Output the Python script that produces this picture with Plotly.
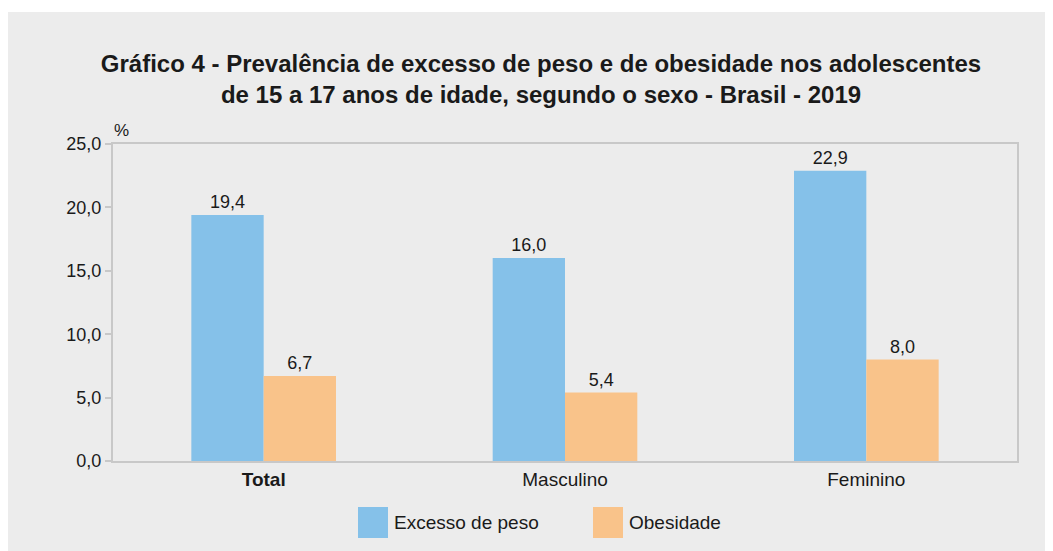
import plotly.graph_objects as go

categories = ["Total", "Masculino", "Feminino"]
tick_labels = ["<b>Total</b>", "Masculino", "Feminino"]
excesso_peso = [19.4, 16.0, 22.9]
obesidade = [6.7, 5.4, 8.0]
series_names = ["Excesso de peso", "Obesidade"]
y_ticks = [0, 5, 10, 15, 20, 25]

BLUE = "#85C1E9"
ORANGE = "#F9C38A"
FONT = "Liberation Sans, Arial, Helvetica, sans-serif"
TXT = "#1a1a1a"

fig = go.Figure()
for name, vals, col in [(series_names[0], excesso_peso, BLUE), (series_names[1], obesidade, ORANGE)]:
    fig.add_trace(go.Bar(
        x=categories, y=vals, name=name, marker=dict(color=col, line=dict(width=0)),
        text=vals, texttemplate="%{y:.1f}", textposition="outside",
        textfont=dict(size=18, color=TXT, family=FONT), cliponaxis=False,
        showlegend=False,
    ))

W, H = 1053, 551
OFF = 8  # page body margin
# plot area in screenshot coordinates
L, R, T, B = 113, 1017, 144, 461
ml = L - OFF
mt = T - OFF
mr = W - (R - OFF)
mb = H - (B - OFF)

fig.update_layout(
    width=W, height=H,
    margin=dict(l=ml, r=mr, t=mt, b=mb),
    paper_bgcolor="white", plot_bgcolor="white",
    separators=",.",
    barmode="group", bargap=0.52, bargroupgap=0,
    font=dict(family=FONT, color=TXT, size=18),
    title=dict(
        text="<b>Gráfico 4 - Prevalência de excesso de peso e de obesidade nos adolescentes<br>de 15 a 17 anos de idade, segundo o sexo - Brasil - 2019</b>",
        x=(541 - OFF) / W, xanchor="center", y=1 - (72 - OFF) / H, yanchor="middle",
        font=dict(size=24, color=TXT, family=FONT),
    ),
    xaxis=dict(
        tickmode="array", tickvals=categories, ticktext=tick_labels,
        showline=True, linecolor="#c8c8c8", linewidth=2, mirror=True,
        ticks="", tickfont=dict(size=19, color=TXT), showgrid=False,
    ),
    yaxis=dict(
        range=[0, 25], tickvals=y_ticks, tickformat=".1f",
        showline=True, linecolor="#c8c8c8", linewidth=2, mirror=True,
        ticks="outside", ticklen=6, tickcolor="#c8c8c8", tickwidth=2,
        showgrid=False, zeroline=False, tickfont=dict(size=18, color=TXT),
    ),
)

pw = W - ml - mr
ph = H - mt - mb
def px(x):
    return (x - OFF - ml) / pw
def py(y):
    return (H - mb - (y - OFF)) / ph

# gray background panel
fig.add_shape(type="rect", xref="paper", yref="paper", layer="below",
              x0=px(5), x1=px(1070), y0=py(12), y1=py(570),
              fillcolor="#ececec", line=dict(width=0))

# % unit label
fig.add_annotation(text="%", xref="paper", yref="paper", x=px(112), y=py(130),
                   xanchor="left", yanchor="middle", showarrow=False,
                   font=dict(size=17, color=TXT))

# legend
for (x0, col, name) in [(358, BLUE, series_names[0]), (593, ORANGE, series_names[1])]:
    fig.add_shape(type="rect", xref="paper", yref="paper",
                  x0=px(x0), x1=px(x0 + 30), y0=py(538), y1=py(507),
                  fillcolor=col, line=dict(width=0))
    fig.add_annotation(text=name, xref="paper", yref="paper", x=px(x0 + 34), y=py(522),
                       xanchor="left", yanchor="middle", showarrow=False,
                       font=dict(size=19, color=TXT))

fig.write_html("out.html")
